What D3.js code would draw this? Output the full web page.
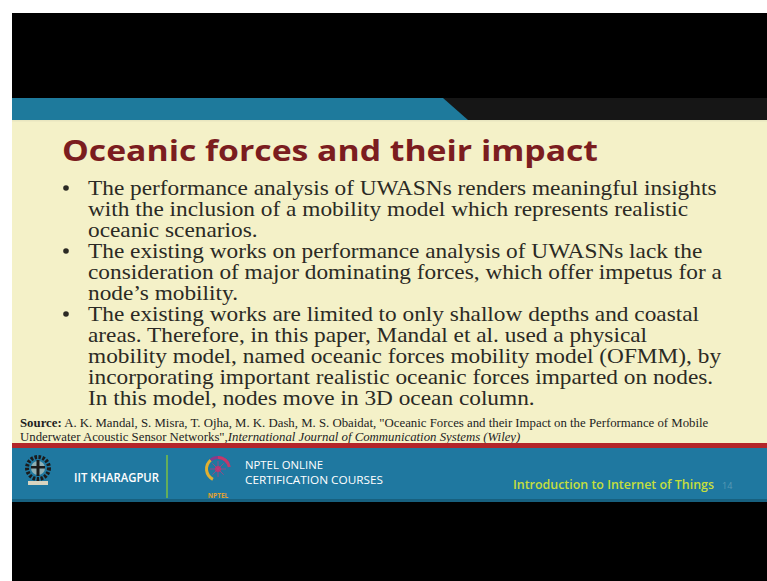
<!DOCTYPE html>
<html><head><meta charset="utf-8">
<script src="https://cdn.jsdelivr.net/npm/d3@7"></script>
<style>html,body{margin:0;padding:0;background:#fff;}svg{display:block;}</style>
</head><body>
<svg id="c" width="767" height="581"></svg>
<script>
const titleText = "Oceanic forces and their impact";
const bodyLines = [
  "The performance analysis of UWASNs renders meaningful insights",
  "with the inclusion of a mobility model which represents realistic",
  "oceanic scenarios.",
  "The existing works on performance analysis of UWASNs lack the",
  "consideration of major dominating forces, which offer impetus for a",
  "node’s mobility.",
  "The existing works are limited to only shallow depths and coastal",
  "areas. Therefore, in this paper, Mandal et al. used a physical",
  "mobility model, named oceanic forces mobility model (OFMM), by",
  "incorporating important realistic oceanic forces imparted on nodes.",
  "In this model, nodes move in 3D ocean column."
];
const bulletStarts = [0, 3, 6];
const sourceLabel = "Source:";
const sourceLine1 = " A. K. Mandal, S. Misra, T. Ojha, M. K. Dash, M. S. Obaidat, \"Oceanic Forces and their Impact on the Performance of Mobile";
const sourceLine2a = "Underwater Acoustic Sensor Networks\",";
const sourceLine2b = "International Journal of Communication Systems (Wiley)";
const footerLeft = "IIT KHARAGPUR";
const footerMid = ["NPTEL ONLINE", "CERTIFICATION COURSES"];
const footerRight = "Introduction to Internet of Things";
const pageNum = "14";

const svg = d3.select("#c");
const W = 767, H = 581;

// frame
svg.append("rect").attr("x",12).attr("y",13).attr("width",W-12).attr("height",H-13).attr("fill","#000");
// slide body
svg.append("rect").attr("x",12).attr("y",120).attr("width",W-12).attr("height",324).attr("fill","#f4f1c8");
// top band
svg.append("rect").attr("x",12).attr("y",98).attr("width",W-12).attr("height",22).attr("fill","#161616");
svg.append("path").attr("d",d3.line()([[12,98],[443,98],[468,120],[12,120]])+"Z").attr("fill","#1e7a9c");
svg.append("rect").attr("x",12).attr("y",120).attr("width",W-12).attr("height",1.5).attr("fill","#e8e6c0");

// title
svg.append("text").attr("x",62).attr("y",161).text(titleText)
  .attr("font-family","'Open Sans', Lato, sans-serif").attr("font-weight","bold")
  .attr("font-size",28).attr("fill","#7b1d1f")
  .attr("textLength",536).attr("lengthAdjust","spacingAndGlyphs");

// body lines
const yLine = d3.scaleLinear().domain([0,10]).range([195,405]);
const body = svg.append("g").attr("transform","translate(88,0) scale(1.06,1)")
  .attr("font-family","'Liberation Serif', 'Times New Roman', serif")
  .attr("font-size",22).attr("fill","#2b2a24");
body.selectAll("text.l").data(bodyLines).join("text").attr("class","l")
  .attr("x",0).attr("y",(d,i)=>yLine(i)).text(d=>d);
svg.selectAll("circle.b").data(bulletStarts).join("circle").attr("class","b")
  .attr("cx",66).attr("cy",d=>yLine(d)-7).attr("r",2.8).attr("fill","#2b2a24");

// source
const src = svg.append("g").attr("font-family","'Liberation Serif', 'Times New Roman', serif")
  .attr("font-size",12.8).attr("fill","#1e1e1e");
const t1 = src.append("text").attr("x",20).attr("y",427);
t1.append("tspan").attr("font-weight","bold").text(sourceLabel);
t1.append("tspan").text(sourceLine1);
const t2 = src.append("text").attr("x",20).attr("y",441);
t2.append("tspan").text(sourceLine2a);
t2.append("tspan").attr("font-style","italic").text(sourceLine2b);

// footer
svg.append("rect").attr("x",12).attr("y",443).attr("width",W-12).attr("height",5).attr("fill","#b3262a");
svg.append("rect").attr("x",12).attr("y",448).attr("width",W-12).attr("height",54).attr("fill","#1f78a0");
svg.append("rect").attr("x",12).attr("y",499).attr("width",W-12).attr("height",3).attr("fill","#17607f");

// IIT logo (simplified)
const iit = svg.append("g").attr("transform","translate(38,468)");
iit.append("circle").attr("r",11).attr("fill","none").attr("stroke","#1b1b1b").attr("stroke-width",4).attr("stroke-dasharray","2.5 1.5");
iit.append("circle").attr("r",7).attr("fill","#d8d4c0").attr("opacity",0.6);
iit.append("rect").attr("x",-1.5).attr("y",-8).attr("width",3).attr("height",16).attr("fill","#1b1b1b");
iit.append("rect").attr("x",-7).attr("y",-2).attr("width",14).attr("height",2.5).attr("fill","#1b1b1b");
iit.append("rect").attr("x",-10).attr("y",13).attr("width",20).attr("height",4).attr("fill","#d8d4c0");
svg.append("text").attr("x",74).attr("y",482).text(footerLeft)
  .attr("font-family","'Open Sans', sans-serif").attr("font-weight",600).attr("font-size",12.5).attr("fill","#fff")
  .attr("textLength",85).attr("lengthAdjust","spacingAndGlyphs");
svg.append("line").attr("x1",167).attr("x2",167).attr("y1",455).attr("y2",498).attr("stroke","#7dc043").attr("stroke-width",1.5);

// NPTEL logo (simplified)
const np = svg.append("g").attr("transform","translate(218,469)");
const arc = d3.arc().innerRadius(10).outerRadius(13);
[["#e0b030",3.6,5.6],["#8a3a8a",5.6,7.4],["#c23a6a",0.0,1.4]].forEach(([c,a0,a1])=>{
  np.append("path").attr("d",arc({startAngle:a0,endAngle:a1})).attr("fill",c);
});
np.append("circle").attr("r",3).attr("fill","#c0306a");
d3.range(8).forEach(k=>{const a=k*Math.PI/4;
  np.append("line").attr("x1",0).attr("y1",0).attr("x2",8*Math.cos(a)).attr("y2",8*Math.sin(a)).attr("stroke","#b04080").attr("stroke-width",0.8);});
svg.append("text").attr("x",218).attr("y",498).attr("text-anchor","middle").text("NPTEL")
  .attr("font-family","'Open Sans', sans-serif").attr("font-weight","bold").attr("font-size",6.5).attr("fill","#e0a030");
const mid = svg.append("g").attr("font-family","'Open Sans', sans-serif").attr("font-size",11.5).attr("fill","#fff");
mid.selectAll("text").data(footerMid).join("text").attr("x",245).attr("y",(d,i)=>469+i*15).text(d=>d)
  .attr("textLength",(d,i)=>i?138:78).attr("lengthAdjust","spacingAndGlyphs");

svg.append("text").attr("x",513).attr("y",489).text(footerRight)
  .attr("font-family","'Open Sans', sans-serif").attr("font-weight",600).attr("font-size",13).attr("fill","#c6df3c")
  .attr("textLength",201).attr("lengthAdjust","spacingAndGlyphs");
svg.append("text").attr("x",722).attr("y",489).text(pageNum)
  .attr("font-family","'Open Sans', sans-serif").attr("font-size",9).attr("fill","#5a9ab5");
</script>
</body></html>
